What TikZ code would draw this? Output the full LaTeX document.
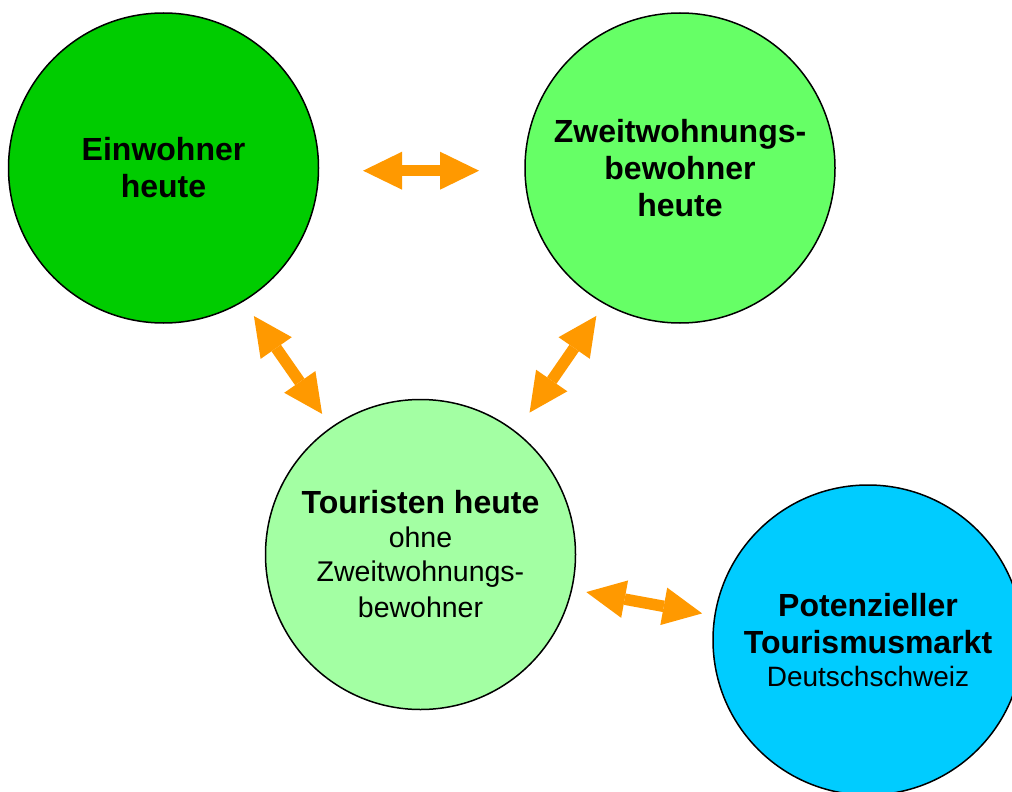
\documentclass[tikz,border=0pt]{standalone}
\usepackage{fontspec}
\setmainfont{Liberation Sans}
\usetikzlibrary{arrows.meta}
\definecolor{cE}{HTML}{00CC00}
\definecolor{cZ}{HTML}{66FF66}
\definecolor{cT}{HTML}{A3FFA3}
\definecolor{cP}{HTML}{00CCFF}
\definecolor{arr}{HTML}{FF9900}
\begin{document}
\begin{tikzpicture}[x=1pt,y=-1pt,
  bubble/.style={circle,draw=black,line width=1.5pt,minimum size=310pt,inner sep=0pt,outer sep=0pt,align=center,text=black,font=\bfseries\fontsize{32}{37}\selectfont},
  link/.style={arr,line width=11.5pt,{Triangle[length=39pt,width=38pt,line width=0pt]}-{Triangle[length=39pt,width=38pt,line width=0pt]}}]
\useasboundingbox (0,0) rectangle (1012,792);
\clip (0,0) rectangle (1012,792);
\fill[white] (0,0) rectangle (1012,792);
\node[bubble,fill=cE] (E) at (163.5,168) {Einwohner\\heute};
\node[bubble,fill=cZ] (Z) at (680,168) {Zweitwohnungs-\\bewohner\\heute};
\node[bubble,fill=cT] (T) at (420.5,554.5) {Touristen heute\\[-3pt]{\mdseries\fontsize{28.5}{34}\selectfont ohne}\\[-3pt]{\mdseries\fontsize{28.5}{34}\selectfont Zweitwohnungs-}\\[-1pt]{\mdseries\fontsize{28.5}{34}\selectfont bewohner}};
\node[bubble,fill=cP] (P) at (868,640) {Potenzieller\\Tourismusmarkt\\[-4pt]{\mdseries\fontsize{28}{33}\selectfont Deutschschweiz}};
\draw[link,shorten <=44.6pt,shorten >=46pt] (E.-1.5) -- (Z.181.5);
\draw[link,shorten <=18.5pt,shorten >=16.6pt] (E.301.4) -- (T.125);
\draw[link,shorten <=15pt,shorten >=24pt] (Z.241) -- (T.52);
\draw[link,shorten <=15pt,shorten >=13pt] (T.347.9) -- (P.171.5);
\end{tikzpicture}
\end{document}
